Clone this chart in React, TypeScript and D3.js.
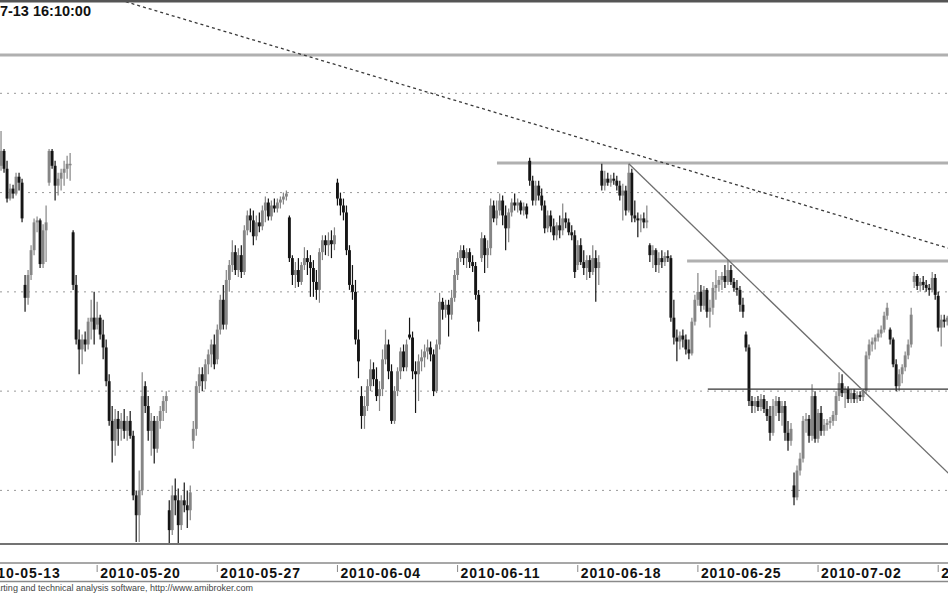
import React from "react";
import * as d3 from "d3";

// Trading days (hourly bars, 8 per day). Data arrays start on tradingDays[1].
const tradingDays = ["2010-05-13","2010-05-14","2010-05-17","2010-05-18","2010-05-19","2010-05-20","2010-05-21","2010-05-24","2010-05-25","2010-05-26","2010-05-27","2010-05-28","2010-05-31","2010-06-01","2010-06-02","2010-06-04","2010-06-07","2010-06-08","2010-06-09","2010-06-10","2010-06-11","2010-06-14","2010-06-15","2010-06-16","2010-06-17","2010-06-18","2010-06-21","2010-06-22","2010-06-23","2010-06-24","2010-06-25","2010-06-28","2010-06-29","2010-06-30","2010-07-01","2010-07-02","2010-07-05","2010-07-06","2010-07-07","2010-07-08","2010-07-09"];
const barsPerDay = 8;
const firstDataDay = 1;

const tickDates = ["2010-05-13","2010-05-20","2010-05-27","2010-06-04","2010-06-11","2010-06-18","2010-06-25","2010-07-02","2010-07-09"];
const gridPrices = [2250, 2300, 2350, 2400, 2450];
const titleText = "2010-07-13 16:10:00";
const footerText = "AmiBroker - charting and technical analysis software, http://www.amibroker.com";

const open = [
2413.5,2421,2412,2397,2402,2399.5,2408,2405,
2353.5,2347,2358.5,2371,2385,2386,2364,2381,
2405,2421,2413.5,2403.5,2407,2410,2412,2414.5,
2380,2353.5,2326,2321,2326,2323.5,2335,2337,
2333.5,2337,2328.5,2322,2305,2285,2275,2286,
2281,2285,2280,2285,2277.5,2247.5,2237.5,2250,
2302.5,2292.5,2280,2285,2271,2285,2290,2295,
2240,2230,2247.5,2245,2232.5,2245,2242.5,2240,
2275,2281,2302.5,2308.5,2305,2313.5,2318.5,2323.5,
2316,2331,2346,2333.5,2356,2363.5,2370,2361,
2368.5,2360,2381,2388.5,2386,2378,2385,2383,
2391,2395,2388,2393.5,2392,2395,2396.5,2398,
2387.5,2367,2358.5,2361,2355,2363.5,2367,2365,
2362,2355,2351,2370,2376,2373.5,2376,2374,
2405,2397,2393.5,2390,2371,2353.5,2350,2326,
2297.5,2287.5,2292.5,2302.5,2311,2306,2297.5,2301,
2316,2323.5,2310,2285,2300,2310,2320,2312,
2328.5,2327,2310,2308.5,2315,2317,2320,2322,
2318.5,2300,2323.5,2345,2341,2343.5,2338.5,2347,
2358.5,2367,2371,2367,2370,2365,2363,2348.5,
2367,2377,2368.5,2372,2393.5,2387,2391,2396,
2388.5,2382,2390,2395,2393.5,2395,2391,2393,
2416,2406,2396,2403.5,2398.5,2393.5,2382,2388.5,
2383,2378.5,2383.5,2381,2387,2385,2380,2378.5,
2363.5,2373.5,2365,2362,2366,2360,2367,2362,
2411,2403.5,2407,2405,2407,2406,2403.5,2398.5,
2401,2391,2410,2388.5,2387,2386,2387,2385,
2373.5,2368.5,2371,2363.5,2367,2365,2368,2367,
2337,2327,2325,2328,2326,2321,2319,2335,
2346,2350,2343,2351,2340,2342,2352,2353.5,
2356,2358,2355,2361,2355,2352,2351,2343.5,
2328.5,2322,2295,2292.5,2295,2292,2296,2291,
2287.5,2279,2292.5,2295,2289,2292.5,2279,2275,
2252.5,2246.5,2260,2266,2285,2286,2277.5,2297.5,
2276,2289,2280,2283,2284,2285,2288,2297.5,
2304,2299,2301,2296,2299,2296,2298,2297,
2300,2318,2323.5,2325,2327,2329,2331,2338,
2331,2326,2313.5,2302.5,2308.5,2312,2318,2323.5,
2355,2358,2353,2355,2353.5,2352,2351,2357,
2348,2332,2336,2335
];

const high = [
2431,2422,2416,2404.5,2404,2410,2410,2407,
2358.5,2361,2373.5,2387,2388,2387,2384,2393.5,
2422,2422,2416,2410,2412,2416,2418.5,2420,
2381,2358.5,2331,2328.5,2330,2337,2346,2350,
2345,2338.5,2336,2326,2308.5,2292.5,2291,2290,
2289,2291,2287.5,2290,2280,2250,2260,2309.5,
2305,2297.5,2289,2287.5,2287.5,2292.5,2297.5,2300,
2245,2252.5,2256,2251,2247.5,2254,2250,2252.5,
2285,2305,2312,2312,2316,2321,2326,2328.5,
2333.5,2348.5,2353.5,2361,2366,2376,2373.5,2372,
2373.5,2383.5,2391,2392,2391,2388.5,2390,2393.5,
2398,2397,2396,2397,2397,2398,2400,2401,
2388.5,2368.5,2365,2367,2365,2372.5,2371,2368.5,
2366,2361,2372,2378.5,2378.5,2380,2381,2382.5,
2407,2400,2397,2393.5,2373.5,2363.5,2356,2331,
2302.5,2297.5,2306,2316,2314.5,2312,2305,2321,
2331,2326,2313.5,2302.5,2312,2322,2323.5,2326,
2337,2330,2315,2318.5,2321,2323.5,2326,2325,
2321,2326,2349.5,2347,2346,2346,2351,2361,
2370,2373.5,2373.5,2372,2372,2368.5,2365,2351,
2380,2378.5,2376,2397,2396,2396,2399.5,2398.5,
2393.5,2392,2397,2399.5,2397,2396,2395,2394.5,
2417.5,2408.5,2406,2406,2402,2396,2391,2391,
2387,2385,2388.5,2394.5,2390,2387,2383.5,2381,
2376,2377,2371,2368.5,2368.5,2373.5,2371,2368.5,
2414.5,2411,2410,2409,2410,2408.5,2406,2404.5,
2403.5,2414.5,2412,2396,2390,2389,2390,2393.5,
2374.5,2373.5,2372,2370,2371,2370,2371,2368.5,
2346,2331,2330,2331,2328.5,2326,2337,2348.5,
2359.5,2353.5,2353,2352,2346,2355,2361,2358,
2360,2363.5,2366,2363.5,2357,2356,2353,2347,
2330,2323.5,2297.5,2297,2297.5,2298.5,2298,2295,
2292.5,2296,2297.5,2297,2295,2295,2285,2284,
2259,2262.5,2269,2287.5,2289,2288,2303.5,2300,
2291,2292.5,2286,2286,2287,2290,2300,2309.5,
2308.5,2302.5,2302.5,2301,2301,2300,2300,2301,
2320,2326,2327,2328.5,2331,2333,2340,2344.5,
2332,2327,2316,2311,2313.5,2320,2326,2342,
2360,2359,2357,2358,2356,2354,2360,2359,
2350,2338.5,2338.5,2338
];

const low = [
2411,2410,2395,2396,2397,2398.5,2401,2385,
2340,2343.5,2356,2368.5,2380,2362,2362,2365,
2403.5,2412,2396,2398.5,2401,2403.5,2407,2406,
2351,2323.5,2308.5,2313.5,2320,2321,2326,2323.5,
2331,2326,2316,2302.5,2282.5,2264,2267.5,2272.5,
2275,2276,2275,2276,2245,2224,2224,2247.5,
2289,2275,2267.5,2263.5,2269,2281,2285,2289,
2223.5,2227.5,2237.5,2223.5,2230,2239,2231,2235,
2271,2277.5,2299,2300,2301,2308.5,2312,2311,
2313.5,2328.5,2331,2331,2350,2360,2358.5,2357.5,
2357,2358.5,2378.5,2380,2373.5,2376,2380,2381,
2385,2386,2386,2390,2390,2392,2394,2396,
2365,2353.5,2352,2352.5,2353.5,2361,2358.5,2347.5,
2347.5,2346,2344.5,2366,2368.5,2368,2367,2371,
2393.5,2388.5,2386,2368.5,2351,2346,2323.5,2306.5,
2281,2281,2290,2300,2302.5,2295,2290,2297.5,
2313.5,2306,2283.5,2283.5,2297.5,2306,2310,2310,
2326,2306,2289,2295,2310,2312,2316,2315,
2297.5,2299,2321,2336,2337,2327.5,2336,2345,
2356,2365,2363.5,2362,2362,2360,2346,2330,
2365,2359.5,2362,2368.5,2385,2383.5,2388.5,2383.5,
2371,2375,2388,2391,2390,2389,2388.5,2387,
2403.5,2393.5,2393.5,2396,2391,2379.5,2380,2380,
2376,2376,2377,2378.5,2382,2378.5,2376,2357,
2361,2363.5,2358.5,2356,2357,2358.5,2345,2353.5,
2401,2401,2403.5,2403,2404,2401,2396,2386,
2388.5,2390,2385,2385,2377.5,2380,2382,2382,
2365,2362,2360,2359.5,2362,2363,2365,2335,
2323.5,2315,2321,2322,2318.5,2316,2318,2333,
2343,2340,2341,2337,2332,2338.5,2346,2350,
2351,2352,2353.5,2353.5,2350,2348,2340,2337,
2320,2292.5,2289,2289,2290,2290,2289,2285,
2275,2277.5,2287.5,2285,2282.5,2275,2270,2272.5,
2242.5,2245,2257.5,2264,2279,2274,2275,2274,
2274,2277.5,2277.5,2280,2281,2282.5,2285,2295,
2297,2291.5,2294,2294,2294,2294,2295,2295,
2299,2316,2320,2321,2325,2327,2329.5,2336,
2323.5,2312,2300,2300,2304,2310,2316,2322,
2352,2351,2350,2351,2350,2348,2350,2346,
2330,2322.5,2332,2333
];

const close = [
2421,2412,2397,2402,2399.5,2408,2405,2387,
2347,2358.5,2371,2385,2386,2364,2381,2385,
2421,2413.5,2403.5,2407,2410,2412,2414.5,2414.5,
2353.5,2326,2321,2326,2323.5,2335,2337,2331,
2337,2328.5,2322,2305,2285,2275,2286,2281,
2285,2280,2285,2277.5,2247.5,2237.5,2250,2297.5,
2292.5,2280,2285,2271,2285,2290,2295,2297.5,
2230,2247.5,2245,2232.5,2245,2242.5,2240,2249,
2281,2302.5,2308.5,2305,2313.5,2318.5,2323.5,2313.5,
2331,2346,2333.5,2356,2363.5,2370,2361,2368.5,
2360,2381,2388.5,2386,2378,2385,2383,2391,
2395,2388,2393.5,2392,2395,2396.5,2398,2399.5,
2367,2358.5,2361,2355,2363.5,2367,2365,2362,
2355,2351,2370,2376,2373.5,2376,2374,2378.5,
2397,2393.5,2390,2371,2353.5,2350,2326,2315,
2287.5,2292.5,2302.5,2311,2306,2297.5,2301,2316,
2323.5,2310,2285,2300,2310,2320,2312,2323.5,
2327,2310,2308.5,2315,2317,2320,2322,2318.5,
2300,2323.5,2345,2341,2343.5,2338.5,2347,2358.5,
2367,2371,2367,2370,2365,2363,2348.5,2335,
2377,2368.5,2372,2393.5,2387,2391,2396,2388.5,
2382,2390,2395,2393.5,2395,2391,2393,2389,
2406,2396,2403.5,2398.5,2393.5,2382,2388.5,2383,
2378.5,2383.5,2381,2387,2385,2380,2378.5,2360,
2373.5,2365,2362,2366,2360,2367,2362,2365,
2403.5,2407,2405,2407,2406,2403.5,2398.5,2401,
2391,2410,2388.5,2387,2386,2387,2385,2386,
2368.5,2371,2363.5,2367,2365,2368,2367,2337,
2327,2325,2328,2326,2321,2319,2335,2346,
2350,2343,2351,2340,2342,2352,2353.5,2356,
2358,2355,2361,2355,2352,2351,2343.5,2340,
2322,2295,2292.5,2295,2292,2296,2291,2287.5,
2279,2292.5,2295,2289,2292.5,2279,2275,2281,
2246.5,2260,2266,2285,2286,2277.5,2297.5,2276,
2289,2280,2283,2284,2285,2288,2297.5,2304,
2299,2301,2296,2299,2296,2298,2297,2300,
2318,2323.5,2325,2327,2329,2331,2338,2342,
2326,2313.5,2302.5,2308.5,2312,2318,2323.5,2338.5,
2358,2353,2355,2353.5,2352,2351,2357,2348.5,
2332,2336,2335,2337
];

// Drawn studies: [slot, price] end points (slot = bar position counted from tradingDays[0])
const dashedTrend = [[47.6, 2497], [330, 2369]];
const solidTrend = [[217, 2414.5], [330, 2249]];
// Horizontal levels: [start slot, price]
const levelFull = [0, 2469.3];
const levelResistance = [173.1, 2414.9];
const levelMid = [236.4, 2365.5];
const levelSupport = [243.3, 2301.0];

const W = 948, H = 593;
const plotTop = 2, plotBottom = 544;

export default function App() {
  const x = d3.scaleLinear().domain([0, 320]).range([-23, 938.2]);
  const y = d3.scaleLinear().domain([2223, 2496]).range([plotBottom, plotTop]);
  const slotOf = (i: number) => i + firstDataDay * barsPerDay;
  const dayX = (d: string) => x(tradingDays.indexOf(d) * barsPerDay);
  const line = d3.line<number[]>().x(d => x(d[0])).y(d => y(d[1]));

  return (
    <svg width={W} height={H} style={{ position: "absolute", left: 0, top: 0, background: "#fff" }}
      fontFamily="'Liberation Sans', Arial, sans-serif">
      <defs>
        <clipPath id="plot"><rect x={0} y={plotTop} width={W} height={plotBottom - plotTop} /></clipPath>
      </defs>
      <rect x={0} y={0} width={W} height={H} fill="#fff" />
      {gridPrices.map(p => (
        <line key={p} x1={0} x2={W} y1={y(p)} y2={y(p)} stroke="#9a9a9a" strokeWidth={1} strokeDasharray="2,5" />
      ))}
      <g clipPath="url(#plot)">
        <line x1={x(levelFull[0])} x2={W} y1={y(levelFull[1])} y2={y(levelFull[1])} stroke="#b0b0b0" strokeWidth={3} />
        <line x1={x(levelResistance[0])} x2={W} y1={y(levelResistance[1])} y2={y(levelResistance[1])} stroke="#b0b0b0" strokeWidth={3} />
        <line x1={x(levelMid[0])} x2={W} y1={y(levelMid[1])} y2={y(levelMid[1])} stroke="#b0b0b0" strokeWidth={3} />
        {open.map((o, i) => {
          const c = close[i];
          const up = c >= o;
          const col = up ? "#858585" : "#151515";
          const cx = x(slotOf(i));
          const yt = y(Math.max(o, c));
          const yb = y(Math.min(o, c));
          return (
            <g key={i}>
              <line x1={cx} x2={cx} y1={y(high[i])} y2={y(low[i])} stroke={col} strokeWidth={1.2} />
              <rect x={cx - 1.45} width={2.9} y={yt} height={Math.max(1.5, yb - yt)} fill={col} />
            </g>
          );
        })}
        <line x1={x(levelSupport[0])} x2={W} y1={y(levelSupport[1])} y2={y(levelSupport[1])} stroke="#333" strokeWidth={1.2} />
        <path d={line(solidTrend) || ""} fill="none" stroke="#6e6e6e" strokeWidth={1.3} />
        <path d={line(dashedTrend) || ""} fill="none" stroke="#3a3a3a" strokeWidth={1.3} strokeDasharray="3,3" />
      </g>
      <line x1={0} x2={W} y1={1.2} y2={1.2} stroke="#555" strokeWidth={2.4} />
      <line x1={0} x2={W} y1={plotBottom} y2={plotBottom} stroke="#444" strokeWidth={1.4} />
      <line x1={0} x2={W} y1={563} y2={563} stroke="#8a8a8a" strokeWidth={1.4} />
      <line x1={0} x2={W} y1={581.5} y2={581.5} stroke="#8a8a8a" strokeWidth={1.4} />
      {tickDates.map(d => {
        const tx = dayX(d);
        return (
          <g key={d}>
            <line x1={tx} x2={tx} y1={565} y2={572} stroke="#888" strokeWidth={1} />
            <text x={tx + 3} y={578} fontSize={14} fontWeight="bold" fill="#111" letterSpacing={0.9}>{d}</text>
          </g>
        );
      })}
      <text x={91} y={16} textAnchor="end" fontSize={14.5} fontWeight="bold" fill="#111">{titleText}</text>
      <text x={253} y={591} textAnchor="end" fontSize={9} fill="#444">{footerText}</text>
    </svg>
  );
}
